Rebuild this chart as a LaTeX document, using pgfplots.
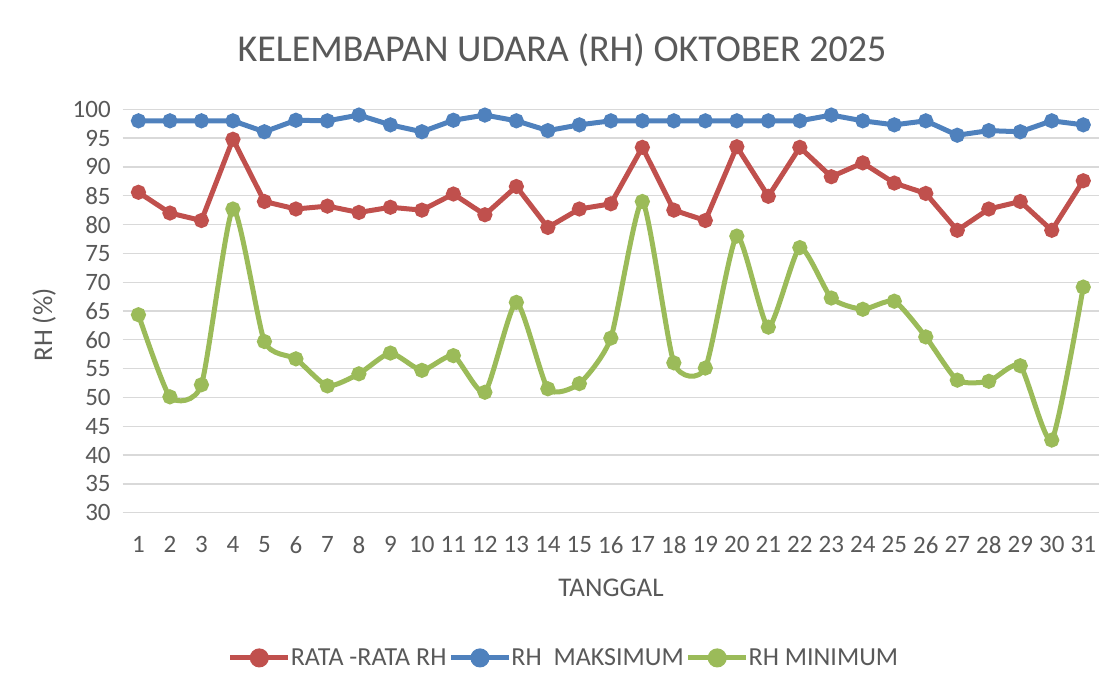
\documentclass[border=0pt]{standalone}
\usepackage{pgfplots}
\pgfplotsset{compat=1.18}
\usepackage{fontspec}
\setmainfont{Carlito}
\definecolor{cred}{HTML}{C0504D}
\definecolor{cblue}{HTML}{4F81BD}
\definecolor{cgreen}{HTML}{9BBB59}
\definecolor{txtgray}{HTML}{595959}
\definecolor{gridgray}{HTML}{D9D9D9}
\begin{document}
\begin{tikzpicture}[x=1pt,y=1pt]
\path[use as bounding box] (0,0) rectangle (1116,693);
\node[text=txtgray,font=\fontsize{38}{44}\selectfont] at (562,643) {KELEMBAPAN UDARA (RH) OKTOBER 2025};
\node[text=txtgray,font=\fontsize{27}{32}\selectfont,rotate=90] at (44,368) {RH (\%)};
\node[text=txtgray,font=\fontsize{27}{32}\selectfont] at (611,105) {TANGGAL};
\begin{axis}[
  at={(122.7pt,180.3pt)}, anchor=south west,
  scale only axis, width=976.3pt, height=403.4pt,
  xmin=0.5, xmax=31.5, ymin=30, ymax=100,
  ytick={30,35,...,100}, xtick={1,...,31},
  ymajorgrids, grid style={color=gridgray, line width=1.3pt},
  axis line style={draw=none}, major tick length=0pt,
  tick label style={font=\fontsize{25}{30}\selectfont, text=txtgray},
  /pgf/number format/assume math mode=true,
  yticklabel style={xshift=-8.5pt},
  xticklabel style={yshift=-20pt},
  clip=false,
  legend columns=3,
  legend style={at={(0.452,-0.360)}, anchor=center, draw=none, fill=none,
    font=\fontsize{26}{30}\selectfont, text=txtgray,
    /tikz/every even column/.append style={column sep=0pt},
    /tikz/every odd column/.append style={column sep=-2pt},
    inner sep=0pt, row sep=0pt},
  legend image code/.code={
    \draw[line width=5pt] (0pt,0pt) -- (58pt,0pt);
    \fill (29pt,0pt) circle (7pt);
  },
  every axis plot/.append style={line width=5pt, mark=*, mark size=5pt},
]
\addplot[color=cred] coordinates {
(1,85.6)(2,82.0)(3,80.7)(4,94.8)(5,84.0)(6,82.7)(7,83.2)(8,82.1)(9,83.0)(10,82.5)
(11,85.3)(12,81.7)(13,86.6)(14,79.5)(15,82.7)(16,83.6)(17,93.4)(18,82.5)(19,80.7)(20,93.5)
(21,84.9)(22,93.4)(23,88.3)(24,90.7)(25,87.2)(26,85.4)(27,79.0)(28,82.7)(29,84.0)(30,79.0)(31,87.6)};
\addlegendentry{RATA -RATA RH}
\addplot[color=cblue] coordinates {
(1,98.0)(2,98.0)(3,98.0)(4,98.0)(5,96.1)(6,98.1)(7,98.0)(8,99.0)(9,97.3)(10,96.1)
(11,98.1)(12,99.0)(13,98.0)(14,96.3)(15,97.3)(16,98.0)(17,98.0)(18,98.0)(19,98.0)(20,98.0)
(21,98.0)(22,98.0)(23,99.0)(24,98.0)(25,97.3)(26,98.0)(27,95.5)(28,96.3)(29,96.1)(30,98.0)(31,97.3)};
\addlegendentry{RH\ \ MAKSIMUM}
\addplot[color=cgreen, smooth, tension=0.35] coordinates {
(1,64.35)(2,50.1)(3,52.2)(4,82.7)(5,59.7)(6,56.7)(7,52.0)(8,54.1)(9,57.7)(10,54.7)
(11,57.25)(12,50.9)(13,66.5)(14,51.5)(15,52.4)(16,60.3)(17,84.0)(18,56.0)(19,55.1)(20,78.0)
(21,62.2)(22,76.0)(23,67.25)(24,65.3)(25,66.7)(26,60.5)(27,53.0)(28,52.8)(29,55.5)(30,42.6)(31,69.15)};
\addlegendentry{RH MINIMUM}
\end{axis}
\end{tikzpicture}
\end{document}
